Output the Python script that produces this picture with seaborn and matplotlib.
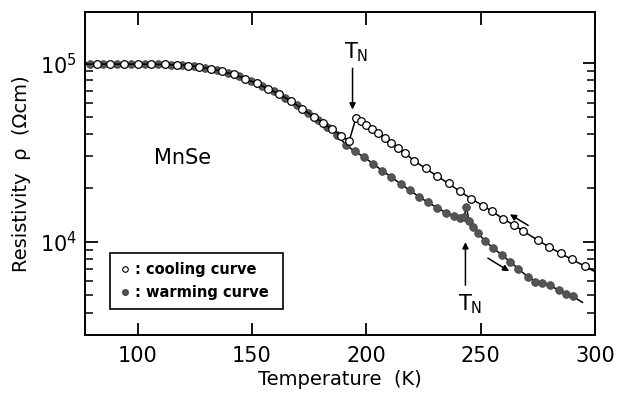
import numpy as np
import pandas as pd
import matplotlib
matplotlib.use("Agg")
import matplotlib.pyplot as plt
from matplotlib.lines import Line2D
from matplotlib.ticker import LogLocator, NullFormatter, FixedLocator
import seaborn as sns

# ---- data ----
cool_T = [77, 82, 88, 94, 100, 106, 112, 117, 122, 127, 132, 137, 142, 147, 152,
          157, 162, 167, 172, 177, 181, 185, 189, 192.5, 195.5, 197.5, 200, 202.5,
          205, 208, 211, 214, 217, 221, 226, 231, 236, 241, 246, 251, 255, 260,
          264.5, 268.5, 275, 280, 285, 290, 295.5, 300]
cool_rho = [98700, 98800, 98800, 98800, 98700, 98600, 98300, 97800, 97000, 95200,
            92800, 89800, 86500, 82000, 77000, 72000, 66800, 61500, 55600, 50200,
            46200, 42700, 39300, 36600, 49300, 47300, 45200, 42800, 40800, 38200,
            35800, 33400, 31200, 28400, 25700, 23300, 21200, 19100, 17400, 15900,
            14800, 13400, 12400, 11500, 10200, 9350, 8600, 7950, 7300, 6800]

warm_T = [77, 79, 85, 91, 97, 103, 109, 114.5, 119.5, 124.5, 129.5, 134.5, 139.5,
          144.5, 149.5, 154.5, 159.5, 164.5, 169.5, 174.5, 179, 183, 187, 191, 195,
          199, 203, 207, 211, 215, 219, 223, 227, 231, 235, 238.5, 241, 242.8, 243.8,
          245, 246.5, 248.7, 252, 255.3, 259.5, 263, 266.5, 270.6, 274, 277, 280.5,
          284.2, 287.5, 290.4, 294.7]
warm_rho = [98700, 98800, 98800, 98800, 98750, 98650, 98450, 98050, 97400, 96100,
            94000, 91300, 88200, 84300, 79500, 74500, 69400, 64100, 58500, 52900,
            48100, 44000, 39800, 35000, 32000, 29800, 27300, 25000, 23000, 21100,
            19400, 17900, 16600, 15500, 14500, 13900, 13500, 13700, 15700, 13000,
            12100, 11200, 10100, 9250, 8400, 7700, 7050, 6370, 5980, 5850, 5700,
            5330, 5120, 4930, 4560]

x_ticks = [100, 150, 200, 250, 300]
y_ticks = [1e4, 1e5]
y_tick_labels = [r"$10^{4}$", r"$10^{5}$"]
legend_labels = [": cooling curve", ": warming curve"]

cool = pd.DataFrame({"T": cool_T, "rho": cool_rho})
warm = pd.DataFrame({"T": warm_T, "rho": warm_rho})

sns.set_theme(style="ticks")
plt.rcParams["font.family"] = ["DejaVu Sans"]
plt.rcParams["mathtext.fontset"] = "dejavusans"
plt.rcParams["text.color"] = "black"
plt.rcParams["axes.labelcolor"] = "black"

fig = plt.figure(figsize=(6.17, 3.93), dpi=100)
ax = fig.add_axes([0.138, 0.1476, 0.826, 0.8214])

sns.lineplot(data=cool, x="T", y="rho", ax=ax, sort=False, estimator=None,
             color="black", linewidth=1.1, marker="o", markersize=5.5,
             markerfacecolor="white", markeredgecolor="black", markeredgewidth=0.9,
             markevery=slice(1, len(cool_T) - 1), zorder=3)
sns.lineplot(data=warm, x="T", y="rho", ax=ax, sort=False, estimator=None,
             color="black", linewidth=1.1, marker="o", markersize=5.5,
             markerfacecolor="#555555", markeredgecolor="#444444", markeredgewidth=0.6,
             markevery=slice(1, len(warm_T) - 1), zorder=2)

ax.set_yscale("log")
ax.set_xlim(77, 300)
ax.set_ylim(3.0e3, 1.93e5)

ax.xaxis.set_major_locator(FixedLocator(x_ticks))
ax.set_xticklabels([str(t) for t in x_ticks])
ax.yaxis.set_major_locator(FixedLocator(y_ticks))
ax.set_yticklabels(y_tick_labels)
ax.yaxis.set_minor_locator(LogLocator(base=10, subs=np.arange(2, 10)))
ax.yaxis.set_minor_formatter(NullFormatter())

ax.tick_params(axis="both", which="major", direction="in", length=9, width=1.3,
               labelsize=15, top=True, right=True, color="black", labelcolor="black")
ax.tick_params(axis="y", which="minor", direction="in", length=6, width=1.1,
               right=True, left=True, color="black")
ax.tick_params(axis="x", which="major", pad=8)
ax.tick_params(axis="y", which="major", pad=6)

for s in ax.spines.values():
    s.set_linewidth(1.4)
    s.set_color("black")

ax.set_xlabel("Temperature  (K)", fontsize=14, labelpad=3, color="black")
ax.set_ylabel("Resistivity  ρ  (Ωcm)", fontsize=14, labelpad=6, color="black")

# annotations
ax.text(119.5, 2.95e4, "MnSe", fontsize=15, ha="center", va="center")
ax.text(195.5, 1.15e5, r"T$_\mathrm{N}$", fontsize=15, ha="center", va="center")
ax.annotate("", xy=(194, 5.3e4), xytext=(194, 9.7e4),
            arrowprops=dict(arrowstyle="-|>", color="black", lw=1.1, mutation_scale=9))
ax.text(245.5, 4.45e3, r"T$_\mathrm{N}$", fontsize=15, ha="center", va="center")
ax.annotate("", xy=(243.4, 1.03e4), xytext=(243.4, 5.5e3),
            arrowprops=dict(arrowstyle="-|>", color="black", lw=1.1, mutation_scale=9))
ax.annotate("", xy=(261.8, 1.45e4), xytext=(271.9, 1.21e4),
            arrowprops=dict(arrowstyle="-|>", color="black", lw=1.1, mutation_scale=9))
ax.annotate("", xy=(263.6, 6.7e3), xytext=(252.2, 8.24e3),
            arrowprops=dict(arrowstyle="-|>", color="black", lw=1.1, mutation_scale=9))

handles = [Line2D([], [], linestyle="none", marker="o", markersize=4,
                  markerfacecolor="white", markeredgecolor="black", markeredgewidth=0.8),
           Line2D([], [], linestyle="none", marker="o", markersize=4,
                  markerfacecolor="#555555", markeredgecolor="#444444")]
leg = ax.legend(handles, legend_labels, loc="lower left",
                bbox_to_anchor=(0.049, 0.08, 0.339, 0.177), mode="expand",
                prop={"weight": "bold", "size": 10.5}, frameon=True, fancybox=False,
                edgecolor="black", framealpha=1, handlelength=0.8, handletextpad=0.3,
                borderpad=0.6, labelspacing=0.6, borderaxespad=0)
leg.get_frame().set_linewidth(1.2)

fig.savefig("out.png", dpi=100)
